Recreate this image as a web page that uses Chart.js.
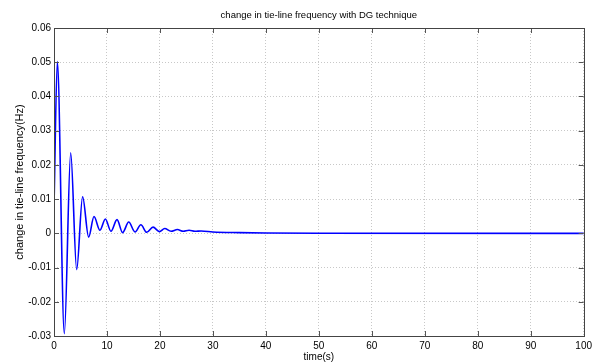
<!DOCTYPE html>
<html>
<head>
<meta charset="utf-8">
<script src="https://cdn.jsdelivr.net/npm/chart.js@4/dist/chart.umd.min.js"></script>
<style>
html,body{margin:0;padding:0;background:#fff;}
#wrap{width:596px;height:362px;position:relative;}
</style>
</head>
<body>
<div id="wrap"><canvas id="c" width="596" height="362"></canvas></div>
<script>
// Data (extrema of the oscillation and tail)
const timeS = [0, 0.63, 1.95, 3.15, 4.28, 5.4, 6.54, 7.55, 8.68, 9.7, 10.75, 11.9, 12.95, 14.1, 15.3, 16.4, 17.5, 18.7, 19.9, 20.9, 22.1, 23.3, 24.4, 25.5, 26.6, 27.8, 30, 35, 40, 50, 100];
const deltaF = [0.0077, 0.0502, -0.0293, 0.0235, -0.0106, 0.0107, -0.0011, 0.0049, 0.0009, 0.0042, 0.0006, 0.0040, 0.0002, 0.0033, 0.0004, 0.0025, 0.0003, 0.0018, 0.0005, 0.0014, 0.0006, 0.0011, 0.0006, 0.0009, 0.0006, 0.0007, 0.0004, 0.0002, 0.0001, 0.00003, 0];
const xTicks = [0, 10, 20, 30, 40, 50, 60, 70, 80, 90, 100];
const yTicks = [-0.03, -0.02, -0.01, 0, 0.01, 0.02, 0.03, 0.04, 0.05, 0.06];
const chartTitle = 'change in tie-line frequency with DG technique';
const xTitle = 'time(s)';
const yTitle = 'change in tie-line frequency(Hz)';

const FONT = 'Liberation Sans, Arial, sans-serif';

const points = timeS.map((t, i) => ({x: t, y: deltaF[i]}));

const matlabFrame = {
  id: 'matlabFrame',
  afterDraw(chart) {
    const {ctx, chartArea: a, scales: {x, y}} = chart;
    ctx.save();
    ctx.strokeStyle = '#555';
    ctx.lineWidth = 1;
    const L = 5;
    ctx.beginPath();
    xTicks.forEach(v => {
      const px = Math.round(x.getPixelForValue(v)) + 0.5;
      ctx.moveTo(px, a.bottom); ctx.lineTo(px, a.bottom - L);
      ctx.moveTo(px, a.top); ctx.lineTo(px, a.top + L);
    });
    yTicks.forEach(v => {
      const py = Math.round(y.getPixelForValue(v)) + 0.5;
      ctx.moveTo(a.left, py); ctx.lineTo(a.left + L, py);
      ctx.moveTo(a.right, py); ctx.lineTo(a.right - L, py);
    });
    ctx.stroke();
    ctx.strokeStyle = '#444';
    ctx.strokeRect(Math.round(a.left) + 0.5, Math.round(a.top) + 0.5, Math.round(a.right - a.left), Math.round(a.bottom - a.top));
    ctx.fillStyle = '#000';
    ctx.font = '9.5px ' + FONT;
    ctx.textAlign = 'center';
    ctx.textBaseline = 'middle';
    ctx.fillText(chartTitle, (a.left + a.right) / 2, 15);
    ctx.restore();
  }
};

new Chart(document.getElementById('c'), {
  type: 'line',
  data: {
    datasets: [{
      data: points,
      borderColor: '#0000ff',
      borderWidth: 1.6,
      pointRadius: 0,
      fill: false,
      cubicInterpolationMode: 'monotone'
    }]
  },
  options: {
    responsive: false,
    animation: false,
    devicePixelRatio: 1,
    layout: {padding: {top: 28, right: 12, left: 0, bottom: 0}},
    plugins: {legend: {display: false}, tooltip: {enabled: false}, title: {display: false}},
    scales: {
      x: {
        type: 'linear', min: 0, max: 100,
        afterBuildTicks: s => { s.ticks = xTicks.map(v => ({value: v})); },
        afterFit: s => { s.height = 26; },
        grid: {color: '#c8c8c8', lineWidth: 1, drawTicks: false},
        border: {display: false, dash: [1, 2]},
        ticks: {color: '#000', font: {family: FONT, size: 10}, padding: 4, maxRotation: 0, callback: v => String(v)},
        title: {display: true, text: xTitle, color: '#000', font: {family: FONT, size: 10, lineHeight: 1}, padding: 0}
      },
      y: {
        type: 'linear', min: -0.03, max: 0.06,
        afterBuildTicks: s => { s.ticks = yTicks.map(v => ({value: v})); },
        afterFit: s => { s.width = 54; },
        grid: {color: '#c8c8c8', lineWidth: 1, drawTicks: false},
        border: {display: false, dash: [1, 2]},
        ticks: {color: '#000', font: {family: FONT, size: 10}, padding: 3, callback: v => Math.abs(v) < 1e-9 ? '0' : v.toFixed(2)},
        title: {display: true, text: yTitle, color: '#000', font: {family: FONT, size: 11, lineHeight: 1.2}, padding: {top: 13, bottom: 0}}
      }
    }
  },
  plugins: [matlabFrame]
});
</script>
</body>
</html>
